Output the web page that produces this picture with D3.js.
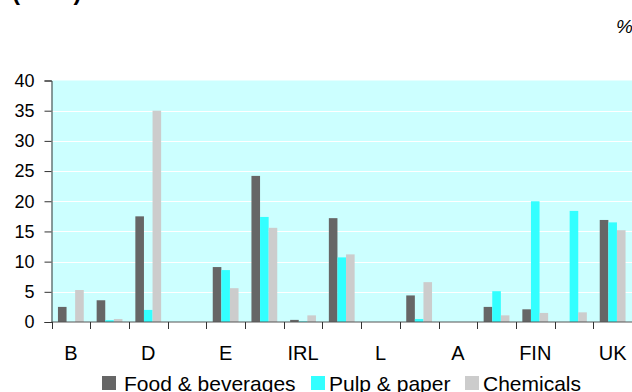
<!DOCTYPE html>
<html>
<head>
<meta charset="utf-8">
<script src="https://cdn.jsdelivr.net/npm/d3@7"></script>
<style>
  html, body { margin: 0; padding: 0; background: #fff; }
  svg { display: block; font-family: Arial, "Liberation Sans", sans-serif; }
</style>
</head>
<body>
<svg id="chart" width="632" height="392"></svg>
<script>
// Country groups (EU-15 order); only every other one carries a label
const countries = ["B", "DK", "D", "EL", "E", "F", "IRL", "I", "L", "NL", "A", "P", "FIN", "S", "UK"];
const tickLabels = ["B", "", "D", "", "E", "", "IRL", "", "L", "", "A", "", "FIN", "", "UK"];

// Shares in %, by sector
const foodBeverages = [2.5, 3.6, 17.5, 0, 9.1, 24.2, 0.35, 17.2, 0, 4.4, 0, 2.5, 2.1, 0, 16.9];
const pulpPaper     = [0, 0.3, 2.0, 0, 8.6, 17.4, 0.1, 10.7, 0, 0.5, 0, 5.1, 20.0, 18.4, 16.5];
const chemicals     = [5.3, 0.5, 35.0, 0, 5.6, 15.6, 1.1, 11.2, 0, 6.6, 0, 1.1, 1.5, 1.6, 15.2];

const seriesNames = ["Food & beverages", "Pulp & paper", "Chemicals"];
const seriesColors = ["#666666", "#33ffff", "#cccccc"];
const yTicks = [0, 5, 10, 15, 20, 25, 30, 35, 40];

const series = [foodBeverages, pulpPaper, chemicals];

const svg = d3.select("#chart");
const plot = { left: 51.5, right: 632, top: 80.5, bottom: 322 };

const x0 = d3.scaleBand().domain(countries).range([plot.left, plot.right]).padding(0);
// three bars take 3 of 4.5 bar widths in each group
const bw = x0.bandwidth() / 4.5;
const x1 = d3.scaleBand().domain(seriesNames)
  .range([bw * 0.75, bw * 0.75 + 3 * bw]).padding(0);
const y = d3.scaleLinear().domain([0, 40]).range([plot.bottom, plot.top]);

// plot background
svg.append("rect")
  .attr("x", plot.left).attr("y", plot.top)
  .attr("width", plot.right - plot.left).attr("height", plot.bottom - plot.top)
  .attr("fill", "#ccffff");

// white gridlines
svg.append("g").selectAll("line")
  .data(yTicks.filter(d => d > 0 && d < 40))
  .join("line")
  .attr("x1", plot.left).attr("x2", plot.right)
  .attr("y1", d => Math.round(y(d)) + 0.5).attr("y2", d => Math.round(y(d)) + 0.5)
  .attr("stroke", "#ffffff").attr("stroke-width", 1);

// bars
const groups = svg.append("g").selectAll("g")
  .data(countries)
  .join("g")
  .attr("transform", d => `translate(${x0(d)},0)`);

groups.selectAll("rect")
  .data((c, i) => series.map((s, k) => ({ name: seriesNames[k], value: s[i], color: seriesColors[k] })))
  .join("rect")
  .attr("x", d => x1(d.name))
  .attr("width", x1.bandwidth())
  .attr("y", d => y(d.value))
  .attr("height", d => plot.bottom - y(d.value))
  .attr("fill", d => d.color);

// y axis
const yAxis = d3.axisLeft(y).tickValues(yTicks).tickSize(7).tickPadding(10);
const gy = svg.append("g").attr("transform", `translate(${plot.left},0)`).call(yAxis);
gy.select(".domain").attr("stroke", "#333");
gy.selectAll(".tick line").attr("stroke", "#333");
gy.selectAll(".tick text")
  .attr("font-size", 18).attr("fill", "#000")
  .attr("font-family", "Arial, 'Liberation Sans', sans-serif");

// x axis: ticks at group boundaries, labels at group centres
const gx = svg.append("g").attr("transform", `translate(0,${plot.bottom})`);
gx.append("line")
  .attr("x1", plot.left).attr("x2", plot.right)
  .attr("stroke", "#555");
gx.selectAll("line.tk")
  .data(countries.map(c => x0(c)).concat([plot.right - 0.5]))
  .join("line")
  .attr("class", "tk")
  .attr("x1", d => Math.round(d) + 0.5).attr("x2", d => Math.round(d) + 0.5)
  .attr("y1", 0).attr("y2", 7)
  .attr("stroke", "#333");
gx.selectAll("text")
  .data(countries)
  .join("text")
  .attr("x", d => x0(d) + x0.bandwidth() / 2)
  .attr("y", 38)
  .attr("text-anchor", "middle")
  .attr("font-size", 20)
  .text((d, i) => tickLabels[i]);

// unit label
svg.append("text")
  .attr("x", 633).attr("y", 33)
  .attr("text-anchor", "end")
  .attr("font-size", 19).attr("font-style", "italic")
  .text("%");

// title, mostly above the top edge
svg.append("text")
  .attr("x", 12).attr("y", 0)
  .attr("font-size", 24).attr("font-weight", "bold")
  .text("(1998)");

// legend
const legendItems = [
  { name: seriesNames[0], color: seriesColors[0], x: 102, tx: 124 },
  { name: seriesNames[1], color: seriesColors[1], x: 311, tx: 329 },
  { name: seriesNames[2], color: seriesColors[2], x: 465, tx: 483 }
];
const lg = svg.append("g");
lg.selectAll("rect")
  .data(legendItems)
  .join("rect")
  .attr("x", d => d.x).attr("y", 376)
  .attr("width", 14).attr("height", 14)
  .attr("fill", d => d.color);
lg.selectAll("text")
  .data(legendItems)
  .join("text")
  .attr("x", d => d.tx).attr("y", 391)
  .attr("font-size", 21)
  .text(d => d.name);
</script>
</body>
</html>
